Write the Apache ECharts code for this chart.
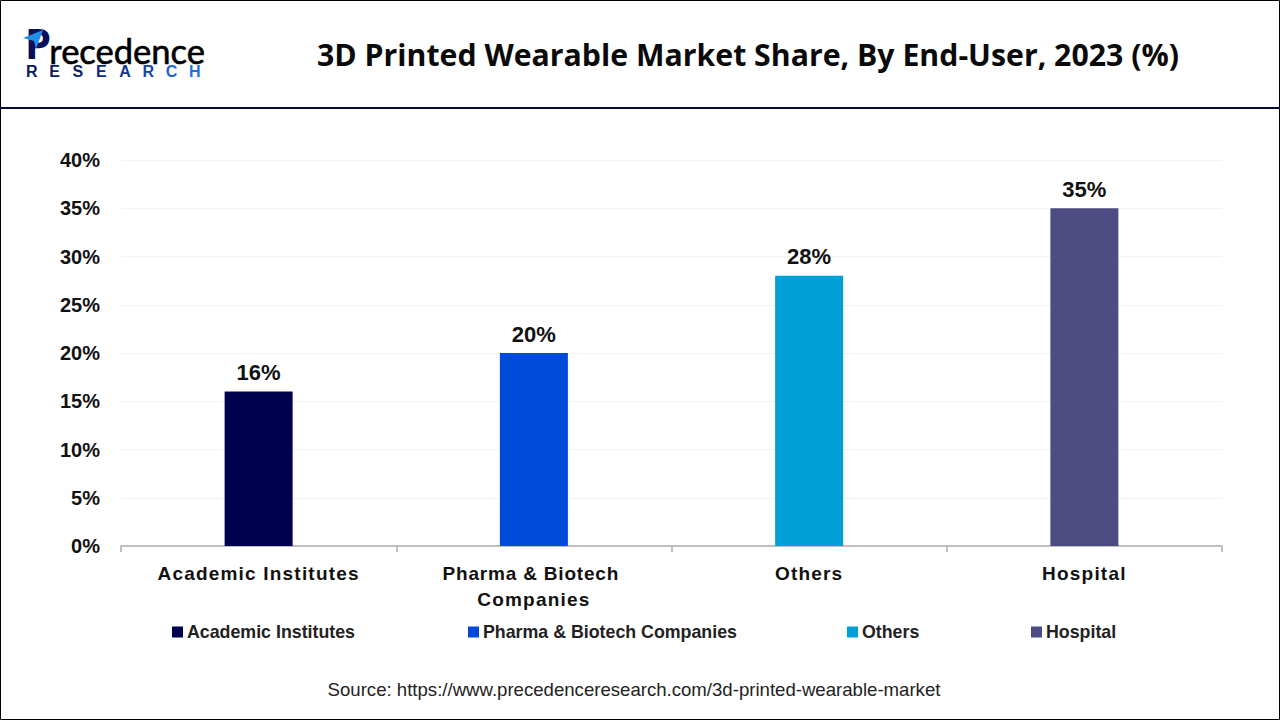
<!DOCTYPE html>
<html>
<head>
<meta charset="utf-8">
<style>
html, body { margin: 0; padding: 0; background: #fff; }
#chart { width: 1280px; height: 720px; }
</style>
<script src="https://cdn.jsdelivr.net/npm/echarts@6/dist/echarts.min.js"></script>
</head>
<body>
<div id="chart"></div>
<script>
const categories = ['Academic Institutes', 'Pharma & Biotech Companies', 'Others', 'Hospital']
const shares = [16, 20, 28, 35]
const colors = ['#000050', '#004ad9', '#009fd6', '#4d4c82']
const logoLetters = ['R', 'E', 'S', 'E', 'A', 'R', 'C', 'H']
const logoLetterColors = ['#0a1a66', '#0a1a66', '#0a1f70', '#0c2a85', '#0f3596', '#1244b0', '#1f63d6', '#1f6fe0']

const chart = echarts.init(document.getElementById('chart'), null, {renderer: 'svg'})

const font = 'Liberation Sans'

const series = categories.map((name, i) => ({
  name: name,
  type: 'bar',
  barWidth: 68,
  barGap: '-100%',
  itemStyle: {color: colors[i]},
  label: {
    show: true,
    position: 'top',
    distance: 8,
    formatter: '{c}%',
    color: '#111',
    fontFamily: font,
    fontWeight: 'bold',
    fontSize: 22
  },
  data: shares.map((v, j) => (j === i ? v : null))
}))

const legendLefts = [167, 463, 842, 1026]
const legends = categories.map((name, i) => ({
  data: [name],
  left: legendLefts[i], top: 618,
  itemWidth: 11, itemHeight: 11,
  icon: 'rect',
  textStyle: {fontFamily: font, fontWeight: 'bold', fontSize: 17.8, color: '#222', padding: [0, 0, 0, -1]}
}))

const logoGradient = new echarts.graphic.LinearGradient(0, 0, 1, 0, [
  {offset: 0, color: '#0a1a66'},
  {offset: 1, color: '#1f78e8'}
])

const logo = [
  {type: 'text', left: 25, top: 21, style: {text: 'P', fill: '#0a0f5c', font: 'bold 42px "Noto Sans"'}},
  {type: 'polygon', shape: {points: [[23, 38], [43, 30], [36, 49], [34, 41]]}, style: {fill: '#1f8fe8'}},
  {type: 'text', left: 49, top: 33, style: {
    text: 'recedence',
    font: '34.5px Lato',
    fill: logoGradient,
    stroke: logoGradient,
    lineWidth: 0.6
  }}
].concat(logoLetters.map((ch, i) => ({
  type: 'text',
  left: 26 + i * 23.3,
  top: 63,
  style: {text: ch, fill: logoLetterColors[i], font: 'bold 16px "Liberation Sans"'}
})))

chart.setOption({
  animation: false,
  backgroundColor: '#fff',
  title: [
    {
      text: '3D Printed Wearable Market Share, By End-User, 2023 (%)',
      left: 743, top: 34, textAlign: 'center',
      textStyle: {fontFamily: 'Open Sans', fontWeight: 'bold', fontSize: 30.25, color: '#0a0a0a'}
    },
    {
      text: 'Source: https://www.precedenceresearch.com/3d-printed-wearable-market',
      left: 629, top: 675, textAlign: 'center',
      textStyle: {fontFamily: font, fontWeight: 'normal', fontSize: 18.6, color: '#222'}
    }
  ],
  legend: legends,
  grid: {left: 121, right: 58, top: 160, bottom: 174},
  xAxis: {
    type: 'category',
    data: categories,
    axisLine: {lineStyle: {color: '#bfbfbf', width: 2}},
    axisTick: {show: true, length: 6, lineStyle: {color: '#bfbfbf', width: 2}},
    axisLabel: {
      interval: 0,
      margin: 14,
      width: 210,
      overflow: 'break',
      lineHeight: 26,
      fontFamily: font,
      fontWeight: 'bold',
      fontSize: 19,
      color: '#111'
    }
  },
  yAxis: {
    type: 'value',
    min: 0, max: 40, interval: 5,
    axisLine: {show: false},
    axisTick: {show: false},
    splitLine: {lineStyle: {color: '#f2f2f2', width: 1}},
    axisLabel: {
      formatter: '{value}%',
      margin: 21,
      verticalAlignMinLabel: 'middle',
      fontFamily: font,
      fontWeight: 'bold',
      fontSize: 20,
      color: '#111',
      padding: [0, 0, 2, 0]
    }
  },
  graphic: [
    {type: 'rect', shape: {x: 0.5, y: 0.5, width: 1279, height: 719}, style: {fill: 'none', stroke: '#000', lineWidth: 1}},
    {type: 'rect', shape: {x: 0, y: 107, width: 1280, height: 2}, style: {fill: '#0a0a3c'}}
  ].concat(logo),
  series: series
})

// x axis names are letter-spaced in the original, only the svg renderer lets us do this
chart.getDom().querySelectorAll('text').forEach(t => {
  const txt = t.textContent.trim()
  if (categories.indexOf(txt) >= 0 || txt === 'Pharma & Biotech' || txt === 'Companies') {
    if (t.getAttribute('style') && t.getAttribute('style').indexOf('19px') >= 0) {
      t.style.letterSpacing = txt === 'Pharma & Biotech' ? '0.8px' : '1.2px'
    }
  }
})
</script>
</body>
</html>
